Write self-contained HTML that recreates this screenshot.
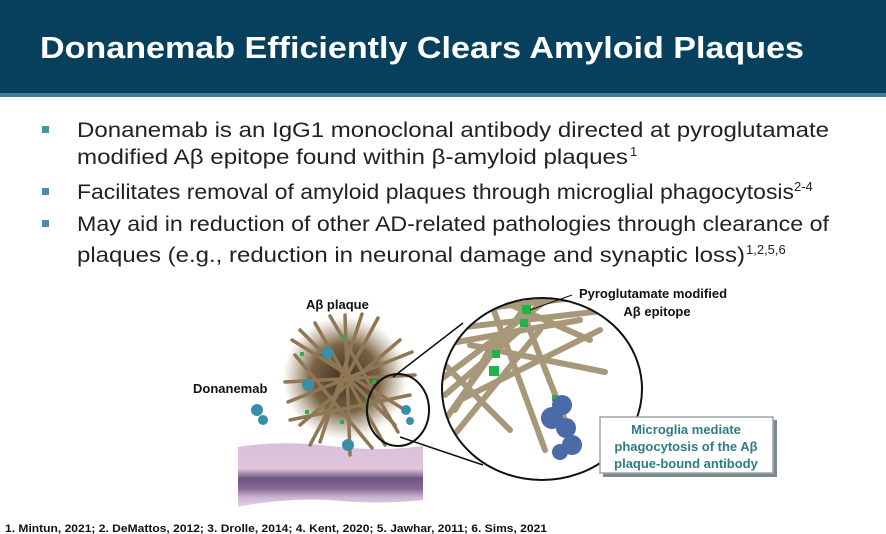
<!DOCTYPE html>
<html><head><meta charset="utf-8"><style>
html,body{margin:0;padding:0;background:#fff;}
svg{display:block;}
text{font-family:"Liberation Sans",Arial,sans-serif;}
</style></head><body>
<svg width="886" height="534" viewBox="0 0 886 534" xmlns="http://www.w3.org/2000/svg">
<rect x="0" y="0" width="886" height="93" fill="#07405c"/>
<rect x="0" y="93" width="886" height="4" fill="#3f7f94"/>
<text x="40" y="58" font-size="31" font-weight="bold" fill="#fff" textLength="764" lengthAdjust="spacingAndGlyphs">Donanemab Efficiently Clears Amyloid Plaques</text>

<g fill="#4a8fa8">
<rect x="42" y="126" width="7" height="7"/>
<rect x="42" y="188" width="7" height="7"/>
<rect x="42" y="220" width="7" height="7"/>
</g>
<g font-size="21" fill="#222">
<text x="77" y="137" textLength="752" lengthAdjust="spacingAndGlyphs">Donanemab is an IgG1 monoclonal antibody directed at pyroglutamate</text>
<text x="77" y="164" textLength="551" lengthAdjust="spacingAndGlyphs">modified Aβ epitope found within β-amyloid plaques</text>
<text x="630" y="156" font-size="13">1</text>
<text x="77" y="199" textLength="717" lengthAdjust="spacingAndGlyphs">Facilitates removal of amyloid plaques through microglial phagocytosis</text>
<text x="794" y="191" font-size="13">2-4</text>
<text x="77" y="231" textLength="752" lengthAdjust="spacingAndGlyphs">May aid in reduction of other AD-related pathologies through clearance of</text>
<text x="77" y="262" textLength="668" lengthAdjust="spacingAndGlyphs">plaques (e.g., reduction in neuronal damage and synaptic loss)</text>
<text x="746" y="254" font-size="13">1,2,5,6</text>
</g>

<defs>
<linearGradient id="mem" x1="0" y1="0" x2="0" y2="1">
<stop offset="0" stop-color="#d8c0dc"/><stop offset="0.4" stop-color="#e2c4dc"/>
<stop offset="0.55" stop-color="#6e5582"/><stop offset="0.72" stop-color="#8a6c98"/><stop offset="0.85" stop-color="#cdb4d2"/><stop offset="1" stop-color="#e6d6e6"/>
</linearGradient>
<radialGradient id="blob" cx="0.5" cy="0.5" r="0.5">
<stop offset="0" stop-color="#3e3020"/><stop offset="0.55" stop-color="#7a6244"/><stop offset="1" stop-color="#a08a68" stop-opacity="0"/>
</radialGradient>
<clipPath id="bigc"><ellipse cx="542" cy="389" rx="100" ry="91"/></clipPath>
</defs>
<path d="M238 447 Q280 440 330 446 Q380 452 423 446 L423 500 Q380 505 330 500 Q280 498 238 507 Z" fill="url(#mem)"/>

<!-- plaque -->
<circle cx="345" cy="378" r="62" fill="url(#blob)"/>
<g stroke="#8f7755" stroke-width="3.5" stroke-linecap="round">
<line x1="292" y1="340" x2="405" y2="410"/><line x1="300" y1="425" x2="400" y2="340"/>
<line x1="345" y1="315" x2="350" y2="455"/><line x1="285" y1="382" x2="415" y2="375"/>
<line x1="315" y1="323" x2="385" y2="445"/><line x1="378" y1="318" x2="310" y2="445"/>
<line x1="288" y1="402" x2="412" y2="352"/><line x1="330" y1="316" x2="398" y2="432"/>
<line x1="295" y1="355" x2="372" y2="448"/><line x1="362" y1="314" x2="320" y2="442"/>
<line x1="300" y1="330" x2="395" y2="425"/><line x1="290" y1="420" x2="410" y2="395"/>
</g>
<g fill="#2bb04a"><rect x="300" y="352" width="4" height="4"/><rect x="340" y="420" width="4" height="4"/><rect x="366" y="398" width="4" height="4"/><rect x="305" y="410" width="4" height="4"/><rect x="372" y="380" width="4" height="4"/><rect x="342" y="335" width="4" height="4"/></g>
<g fill="#3a8fa8"><circle cx="328" cy="353" r="6"/><circle cx="308" cy="385" r="6"/><circle cx="257" cy="410" r="6"/><circle cx="263" cy="420" r="5"/><circle cx="348" cy="445" r="6"/><circle cx="406" cy="410" r="5"/><circle cx="410" cy="421" r="4"/></g>

<!-- small circle and connectors -->
<ellipse cx="398" cy="410" rx="31" ry="36" fill="none" stroke="#111" stroke-width="2"/>
<line x1="393" y1="377" x2="463" y2="323" stroke="#111" stroke-width="1.5"/>
<line x1="400" y1="437" x2="483" y2="465" stroke="#111" stroke-width="1.5"/>

<!-- big circle -->
<ellipse cx="542" cy="389" rx="100" ry="91" fill="#fff"/>
<g clip-path="url(#bigc)" stroke="#a8987a" stroke-width="6" stroke-linecap="round">
<line x1="440" y1="330" x2="610" y2="310"/><line x1="440" y1="380" x2="560" y2="290"/>
<line x1="445" y1="420" x2="530" y2="300"/><line x1="470" y1="345" x2="605" y2="372"/>
<line x1="490" y1="300" x2="545" y2="450"/><line x1="500" y1="300" x2="590" y2="340"/>
<line x1="440" y1="360" x2="510" y2="430"/><line x1="520" y1="305" x2="565" y2="420"/>
<line x1="450" y1="440" x2="540" y2="330"/><line x1="460" y1="400" x2="600" y2="330"/>
<line x1="440" y1="345" x2="580" y2="320"/><line x1="445" y1="395" x2="520" y2="330"/>
<line x1="470" y1="310" x2="600" y2="295"/><line x1="455" y1="410" x2="495" y2="340"/>
</g>
<g fill="#1fb34a"><rect x="522" y="305" width="9" height="9"/><rect x="520" y="319" width="8" height="8"/><rect x="492" y="350" width="8" height="8"/><rect x="489" y="366" width="10" height="10"/><rect x="552" y="395" width="6" height="6"/></g>
<g fill="#4a6aa8"><circle cx="562" cy="405" r="10"/><circle cx="552" cy="418" r="11"/><circle cx="566" cy="428" r="10"/><circle cx="572" cy="445" r="10"/><circle cx="560" cy="452" r="8"/></g>
<ellipse cx="542" cy="389" rx="100" ry="91" fill="none" stroke="#111" stroke-width="2"/>
<line x1="572" y1="295" x2="530" y2="310" stroke="#111" stroke-width="1"/>

<!-- callout box -->
<rect x="603" y="420" width="174" height="57" fill="#7a8a92"/>
<rect x="600" y="417" width="173" height="56" fill="#fff" stroke="#9aa6aa" stroke-width="1.5"/>
<g font-size="13" font-weight="bold" fill="#2e7d86" text-anchor="middle">
<text x="686" y="434">Microglia mediate</text>
<text x="686" y="451">phagocytosis of the Aβ</text>
<text x="686" y="468">plaque-bound antibody</text>
</g>

<g font-size="13" font-weight="bold" fill="#111">
<text x="306" y="309">Aβ plaque</text>
<text x="193" y="393">Donanemab</text>
<text x="653" y="298" text-anchor="middle">Pyroglutamate modified</text>
<text x="657" y="316" text-anchor="middle">Aβ epitope</text>
</g>
<text x="5" y="532" font-size="11" font-weight="bold" fill="#111" textLength="542" lengthAdjust="spacingAndGlyphs">1. Mintun, 2021; 2. DeMattos, 2012; 3. Drolle, 2014; 4. Kent, 2020; 5. Jawhar, 2011; 6. Sims, 2021</text>
</svg>
</body></html>
